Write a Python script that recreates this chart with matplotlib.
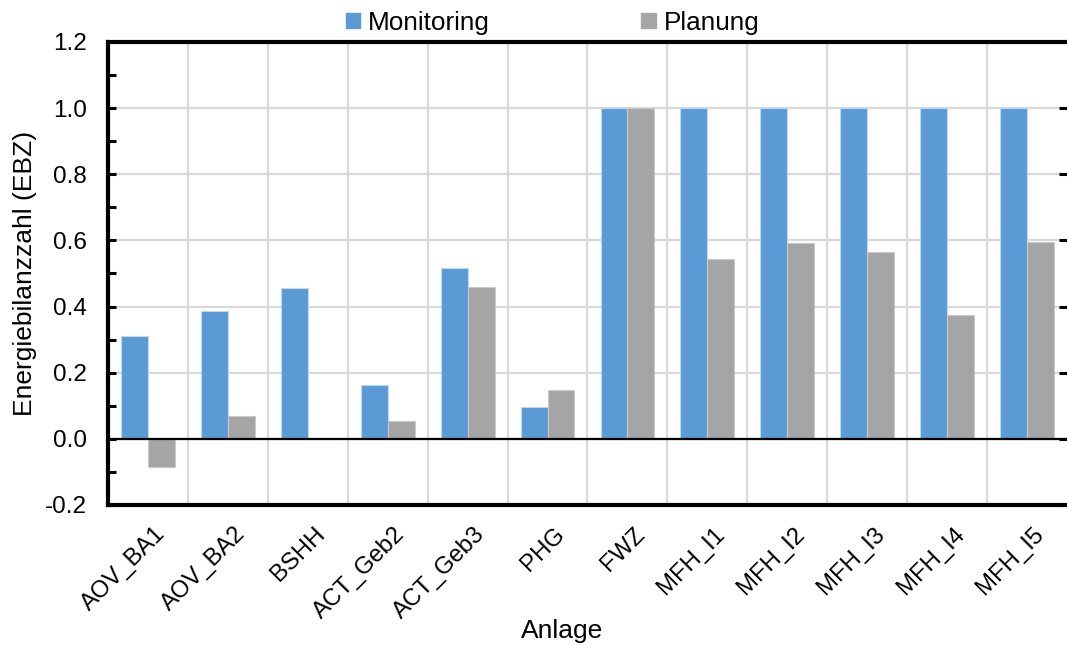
import matplotlib
matplotlib.use("Agg")
import matplotlib.pyplot as plt
from matplotlib.ticker import MultipleLocator, FixedLocator
from matplotlib.patches import Patch
from matplotlib.transforms import ScaledTranslation
import numpy as np

plt.rcParams['font.family'] = ['Liberation Sans', 'DejaVu Sans']

anlagen = ["AOV_BA1", "AOV_BA2", "BSHH", "ACT_Geb2", "ACT_Geb3", "PHG",
           "FWZ", "MFH_I1", "MFH_I2", "MFH_I3", "MFH_I4", "MFH_I5"]
monitoring = [0.31, 0.386, 0.457, 0.163, 0.516, 0.097,
              1.0, 1.0, 1.0, 1.0, 1.0, 1.0]
planung = [-0.085, 0.07, 0.0, 0.053, 0.46, 0.148,
           1.0, 0.545, 0.591, 0.564, 0.373, 0.595]
y_ticks = [-0.2, 0.0, 0.2, 0.4, 0.6, 0.8, 1.0, 1.2]

blue = "#5B9BD5"
gray = "#A5A5A5"

fig = plt.figure(figsize=(10.67, 6.46), dpi=100)
ax = fig.add_axes([0.1012, 0.2183, 0.8988, 0.7167])

x = np.arange(len(anlagen))
w = 0.337
ax.bar(x - w / 2, monitoring, w, color=blue, edgecolor="#BDD7EE",
       linewidth=0.8, zorder=3)
ax.bar(x + w / 2, planung, w, color=gray, edgecolor="#C9C9C9",
       linewidth=0.8, zorder=3)

ax.set_xlim(-0.5, len(anlagen) - 0.5)
ax.set_ylim(-0.2, 1.2)

# y axis ticks and grid
ax.set_yticks(y_ticks)
ax.set_yticklabels([f"{v:.1f}" for v in y_ticks])
ax.yaxis.set_minor_locator(MultipleLocator(0.1))
ax.tick_params(axis="y", which="major", direction="in", length=6, width=2.2,
               labelsize=17.5, right=True, left=True, pad=15)
ax.tick_params(axis="y", which="minor", direction="in", length=6, width=2.2,
               left=True, right=False)

# category boundaries as vertical grid lines
ax.xaxis.set_minor_locator(FixedLocator(np.arange(0.5, len(anlagen) - 0.5, 1)))
ax.set_xticks(x)
ax.set_xticklabels(anlagen, rotation=45, ha="right", va="top",
                   rotation_mode="anchor", fontsize=17.2)
ax.tick_params(axis="x", which="both", length=0, pad=13)
shift = ScaledTranslation(6 / 100, 0, fig.dpi_scale_trans)
for lbl in ax.get_xticklabels():
    lbl.set_transform(lbl.get_transform() + shift)

ax.grid(axis="y", which="major", color="#D9D9D9", linewidth=1.6, zorder=0)
ax.grid(axis="x", which="minor", color="#D9D9D9", linewidth=1.6, zorder=0)
ax.set_axisbelow(True)

ax.axhline(0, color="black", linewidth=1.6, zorder=4)

for side in ("left", "top", "bottom"):
    ax.spines[side].set_linewidth(3)
    ax.spines[side].set_color("black")
ax.spines["right"].set_visible(False)

ax.set_ylabel("Energiebilanzzahl (EBZ)", fontsize=19, labelpad=6)
ax.set_xlabel("Anlage", fontsize=19, va="center")
ax.xaxis.set_label_coords(0.473, -0.272)

handles = [Patch(color=blue, label="Monitoring"), Patch(color=gray, label="Planung")]
fig.legend(handles=handles, loc="center", bbox_to_anchor=(0.518, 0.965),
           ncol=2, frameon=False, fontsize=18.8, handlelength=0.55,
           handleheight=0.55, handletextpad=0.3, columnspacing=5.8,
           borderpad=0.0)

fig.savefig("out.png", dpi=100)
